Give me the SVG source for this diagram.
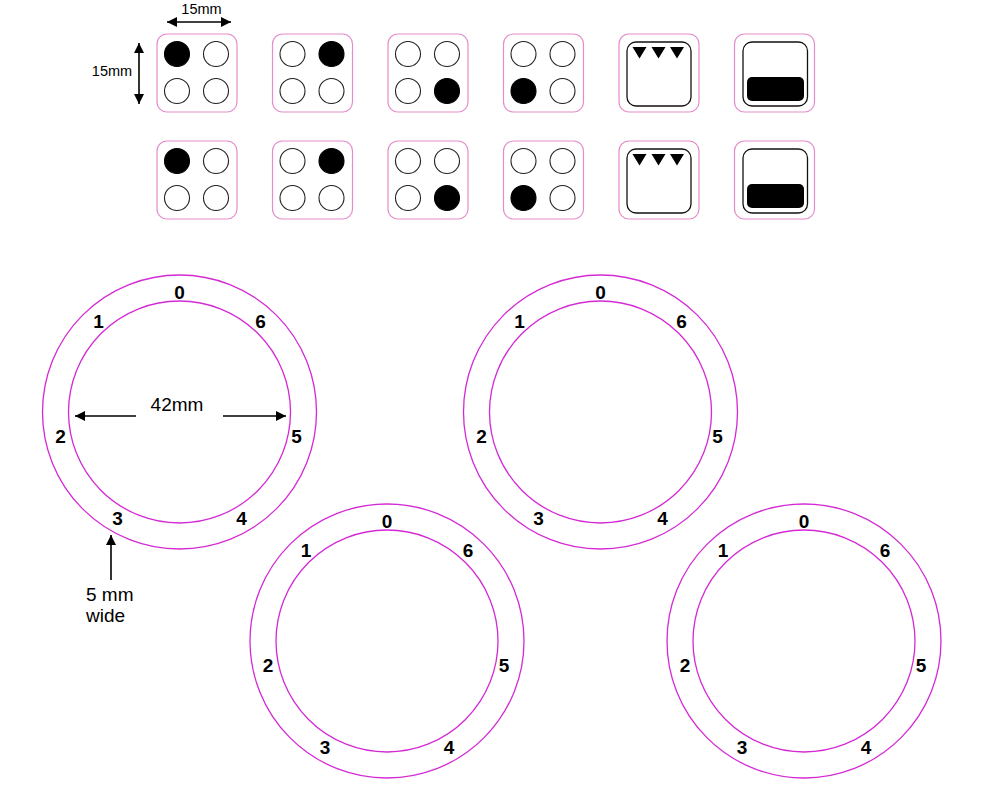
<svg xmlns="http://www.w3.org/2000/svg" width="991" height="786" viewBox="0 0 991 786">
<defs>
<style>
.tile{fill:#fff;stroke:#e58ccc;stroke-width:1.2}
.dot{fill:#fff;stroke:#222;stroke-width:1.1}
.on{fill:#000;stroke:#000;stroke-width:1.1}
.inner{fill:#fff;stroke:#111;stroke-width:1.3}
.ring{fill:none;stroke:#d42ad4;stroke-width:1.3}
.num{font-family:"Liberation Sans",Arial,sans-serif;font-weight:bold;font-size:19px;fill:#000;text-anchor:middle}
.lbl{font-family:"Liberation Sans",Arial,sans-serif;font-size:19px;fill:#000}
.sm{font-family:"Liberation Sans",Arial,sans-serif;font-size:14.5px;fill:#000}
.arr{stroke:#000;stroke-width:1.6;fill:none}
</style>
<marker id="ah" viewBox="0 0 10 10" refX="10" refY="5" markerWidth="10" markerHeight="10" markerUnits="userSpaceOnUse" orient="auto-start-reverse">
<path d="M0,0 L10,5 L0,10 Z" fill="#000"/>
</marker>
<g id="ringLabels">
<text class="num" x="0" y="-113">0</text>
<text class="num" x="-81" y="-84">1</text>
<text class="num" x="81" y="-84">6</text>
<text class="num" x="-119" y="31">2</text>
<text class="num" x="117" y="31">5</text>
<text class="num" x="-62" y="113">3</text>
<text class="num" x="62" y="113">4</text>
</g>
</defs>
<rect width="991" height="786" fill="#fff"/>

<g id="tiles-row1">
<g id="t1a" transform="translate(157,34)"><rect class="tile" width="80" height="78" rx="10"/><circle class="on" cx="20" cy="20" r="12.5"/><circle class="dot" cx="59" cy="20" r="12.5"/><circle class="dot" cx="20" cy="57" r="12.5"/><circle class="dot" cx="59" cy="57" r="12.5"/></g>
<g id="t2a" transform="translate(272.5,34)"><rect class="tile" width="80" height="78" rx="10"/><circle class="dot" cx="20" cy="20" r="12.5"/><circle class="on" cx="59" cy="20" r="12.5"/><circle class="dot" cx="20" cy="57" r="12.5"/><circle class="dot" cx="59" cy="57" r="12.5"/></g>
<g id="t3a" transform="translate(388,34)"><rect class="tile" width="80" height="78" rx="10"/><circle class="dot" cx="20" cy="20" r="12.5"/><circle class="dot" cx="59" cy="20" r="12.5"/><circle class="dot" cx="20" cy="57" r="12.5"/><circle class="on" cx="59" cy="57" r="12.5"/></g>
<g id="t4a" transform="translate(503.5,34)"><rect class="tile" width="80" height="78" rx="10"/><circle class="dot" cx="20" cy="20" r="12.5"/><circle class="dot" cx="59" cy="20" r="12.5"/><circle class="on" cx="20" cy="57" r="12.5"/><circle class="dot" cx="59" cy="57" r="12.5"/></g>
<g id="t5a" transform="translate(619,34)"><rect class="tile" width="80" height="78" rx="10"/><rect class="inner" x="8" y="8" width="64" height="64" rx="9"/><path d="M13.5,13 L27.5,13 L20.5,24.5 Z M32.5,13 L46.5,13 L39.5,24.5 Z M51,13 L65,13 L58,24.5 Z" fill="#000"/></g>
<g id="t6a" transform="translate(734.5,34)"><rect class="tile" width="80" height="78" rx="10"/><rect class="inner" x="8.5" y="8" width="64.5" height="64" rx="9"/><rect x="12.5" y="43" width="57" height="24" rx="5" fill="#000"/></g>
</g>

<g id="tiles-row2">
<g id="t1b" transform="translate(157,141)"><rect class="tile" width="80" height="78" rx="10"/><circle class="on" cx="20" cy="20" r="12.5"/><circle class="dot" cx="59" cy="20" r="12.5"/><circle class="dot" cx="20" cy="57" r="12.5"/><circle class="dot" cx="59" cy="57" r="12.5"/></g>
<g id="t2b" transform="translate(272.5,141)"><rect class="tile" width="80" height="78" rx="10"/><circle class="dot" cx="20" cy="20" r="12.5"/><circle class="on" cx="59" cy="20" r="12.5"/><circle class="dot" cx="20" cy="57" r="12.5"/><circle class="dot" cx="59" cy="57" r="12.5"/></g>
<g id="t3b" transform="translate(388,141)"><rect class="tile" width="80" height="78" rx="10"/><circle class="dot" cx="20" cy="20" r="12.5"/><circle class="dot" cx="59" cy="20" r="12.5"/><circle class="dot" cx="20" cy="57" r="12.5"/><circle class="on" cx="59" cy="57" r="12.5"/></g>
<g id="t4b" transform="translate(503.5,141)"><rect class="tile" width="80" height="78" rx="10"/><circle class="dot" cx="20" cy="20" r="12.5"/><circle class="dot" cx="59" cy="20" r="12.5"/><circle class="on" cx="20" cy="57" r="12.5"/><circle class="dot" cx="59" cy="57" r="12.5"/></g>
<g id="t5b" transform="translate(619,141)"><rect class="tile" width="80" height="78" rx="10"/><rect class="inner" x="8" y="8" width="64" height="64" rx="9"/><path d="M13.5,13 L27.5,13 L20.5,24.5 Z M32.5,13 L46.5,13 L39.5,24.5 Z M51,13 L65,13 L58,24.5 Z" fill="#000"/></g>
<g id="t6b" transform="translate(734.5,141)"><rect class="tile" width="80" height="78" rx="10"/><rect class="inner" x="8.5" y="8" width="64.5" height="64" rx="9"/><rect x="12.5" y="43" width="57" height="24" rx="5" fill="#000"/></g>
</g>

<g id="ring1" transform="translate(179.5,412)"><circle class="ring" r="137"/><circle class="ring" r="111"/><use href="#ringLabels"/></g>
<g id="ring2" transform="translate(600.5,412)"><circle class="ring" r="137"/><circle class="ring" r="111"/><use href="#ringLabels"/></g>
<g id="ring3" transform="translate(387,641)"><circle class="ring" r="137"/><circle class="ring" r="111"/><use href="#ringLabels"/></g>
<g id="ring4" transform="translate(804,641)"><circle class="ring" r="137"/><circle class="ring" r="111"/><use href="#ringLabels"/></g>

<g id="connectors">
<line class="arr" x1="167" y1="22" x2="231" y2="22" marker-start="url(#ah)" marker-end="url(#ah)"/>
<line class="arr" x1="139" y1="43" x2="139" y2="104" marker-start="url(#ah)" marker-end="url(#ah)"/>
<line class="arr" x1="136" y1="416" x2="75" y2="416" marker-end="url(#ah)"/>
<line class="arr" x1="223" y1="416" x2="286" y2="416" marker-end="url(#ah)"/>
<line class="arr" x1="111" y1="580" x2="111" y2="535" marker-end="url(#ah)"/>
</g>

<g id="labels">
<text class="sm" x="201.5" y="13.5" text-anchor="middle">15mm</text>
<text class="sm" x="112" y="76" text-anchor="middle">15mm</text>
<text class="lbl" x="177" y="411" text-anchor="middle">42mm</text>
<text class="lbl" x="86" y="601">5 mm</text>
<text class="lbl" x="86" y="622">wide</text>
</g>
</svg>
